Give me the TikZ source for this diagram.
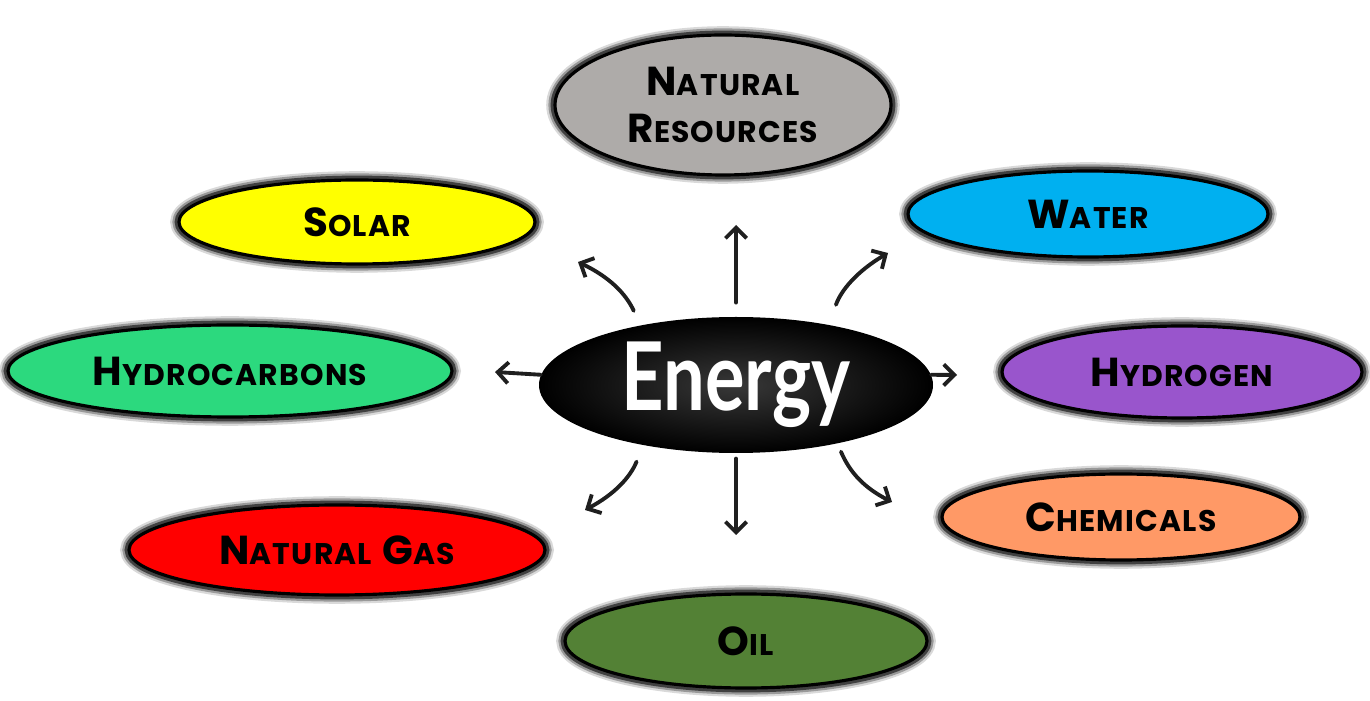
\documentclass[tikz,border=0pt]{standalone}
\usepackage{fontspec}
\setmainfont{Poppins}[LetterSpace=4]
\newfontfamily\handfont{Lato}
\usetikzlibrary{arrows.meta,positioning,shapes}

\definecolor{natgray}{RGB}{174,171,169}
\definecolor{solaryellow}{RGB}{255,255,0}
\definecolor{waterblue}{RGB}{0,176,240}
\definecolor{hcgreen}{RGB}{44,217,126}
\definecolor{h2purple}{RGB}{153,85,204}
\definecolor{chemorange}{RGB}{255,153,102}
\definecolor{gasred}{RGB}{255,0,0}
\definecolor{oilgreen}{RGB}{83,129,53}

% first letter large, the rest as small capitals
\newcommand{\capword}[2]{#1{\fontsize{17}{20}\selectfont #2}}

\tikzset{
    bubble/.style={ellipse, draw=black, line width=1.8pt, inner sep=0pt,
        preaction={draw=black!15, line width=10pt},
        preaction={draw=black!40, line width=7.5pt},
        preaction={draw=black!75, line width=5pt},
        font=\fontsize{23}{27}\selectfont\bfseries},
    spoke/.style={-{Straight Barb[length=6pt,width=12pt]}, line width=2.2pt,
        black!88, line cap=round}
}

\begin{document}
\begin{tikzpicture}
    \useasboundingbox (0, 0) rectangle (27.4, 14);

    % Centre
    \node[ellipse, shading=radial, inner color=black!78, outer color=black,
        minimum width=7.88cm, minimum height=2.72cm, inner sep=0pt,
        text=white, font=\fontsize{54}{60}\selectfont\handfont\bfseries] (energy) at (14.72, 6.3)
        {\scalebox{0.78}[1]{Energy}};

    % Sources around it
    \node[bubble, fill=natgray, minimum width=6.72cm, minimum height=2.8cm, align=center]
        (natres) at (14.46, 11.9) {\capword{N}{ATURAL}\\\capword{R}{ESOURCES}};
    \node[bubble, fill=solaryellow, minimum width=7.12cm, minimum height=1.68cm]
        (solar) at (7.14, 9.56) {\capword{S}{OLAR}};
    \node[bubble, fill=waterblue, minimum width=7.2cm, minimum height=1.72cm]
        (water) at (21.76, 9.72) {\capword{W}{ATER}};
    \node[bubble, fill=hcgreen, minimum width=8.88cm, minimum height=1.84cm]
        (hydrocarbons) at (4.6, 6.58) {\capword{H}{YDROCARBONS}};
    \node[bubble, fill=h2purple, minimum width=7.2cm, minimum height=1.84cm]
        (hydrogen) at (23.64, 6.56) {\capword{H}{YDROGEN}};
    \node[bubble, fill=chemorange, minimum width=7.16cm, minimum height=1.72cm]
        (chemicals) at (22.42, 3.66) {\capword{C}{HEMICALS}};
    \node[bubble, fill=gasred, minimum width=8.32cm, minimum height=1.8cm]
        (natgas) at (6.74, 3.0) {\capword{N}{ATURAL} \capword{G}{AS}};
    \node[bubble, fill=oilgreen, minimum width=7.24cm, minimum height=1.88cm]
        (oil) at (14.92, 1.18) {\capword{O}{IL}};

    % Arrow tips
    \coordinate (tipN) at (14.72, 9.5);
    \coordinate (tipNW) at (11.56, 8.76);
    \coordinate (tipNE) at (17.76, 8.94);
    \coordinate (tipW) at (9.9, 6.56);
    \coordinate (tipE) at (19.14, 6.5);
    \coordinate (tipSW) at (11.7, 3.8);
    \coordinate (tipS) at (14.72, 3.3);
    \coordinate (tipSE) at (17.84, 3.96);

    \draw[spoke, shorten <=8pt] (energy.north) -- (tipN);
    \draw[spoke, shorten <=9pt] (energy.148) to[bend right=20] (tipNW);
    \draw[spoke, shorten <=12pt] (energy.33) to[bend left=20] (tipNE);
    \draw[spoke] (energy.177) -- (tipW);
    \draw[spoke] (energy.3) -- (tipE);
    \draw[spoke, shorten <=10pt] (energy.213) to[bend left=20] (tipSW);
    \draw[spoke, shorten <=3pt] (energy.south) -- (tipS);
    \draw[spoke, shorten <=5pt] (energy.330) to[bend right=20] (tipSE);
\end{tikzpicture}
\end{document}
